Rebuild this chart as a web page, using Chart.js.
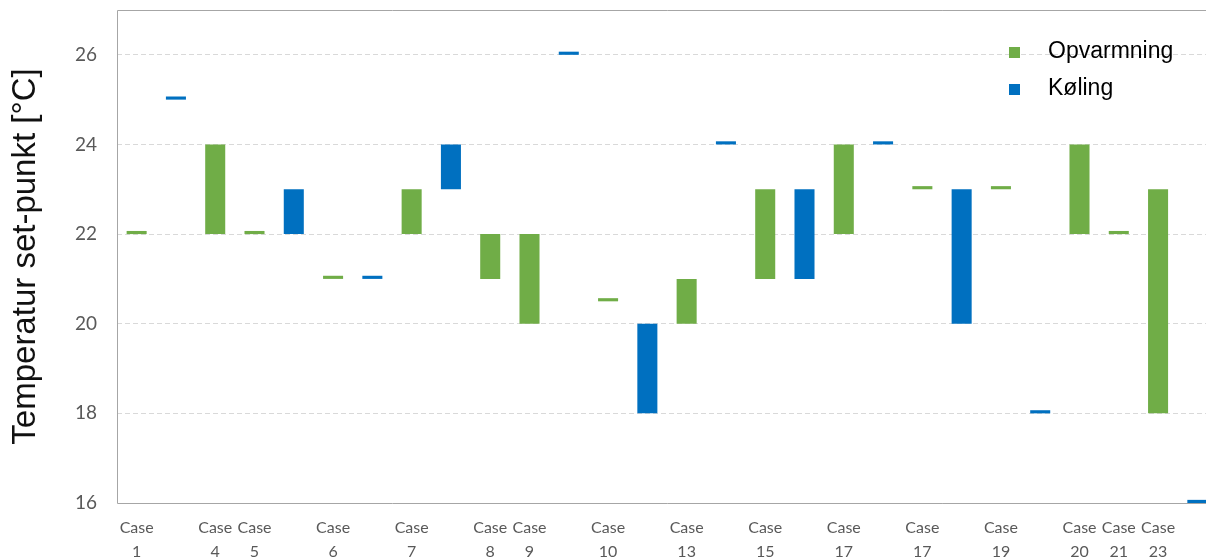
<!doctype html>
<html>
<head>
<meta charset="UTF-8">
<title>Temperatur set-punkt</title>
<style>
  html, body { margin: 0; padding: 0; background: #fff; overflow: hidden; }
  #chart-box { position: relative; width: 1222px; height: 558px; }
</style>
</head>
<body>
<div id="chart-box"><canvas id="myChart"></canvas></div>

<script src="https://cdn.jsdelivr.net/npm/chart.js@4.4.0/dist/chart.umd.min.js"></script>
<script>
// kategorier (tom tekst = ingen label under søjlen)
var cases = [
  ['Case', '1'], '', ['Case', '4'], ['Case', '5'], '', ['Case', '6'], '', ['Case', '7'], '',
  ['Case', '8'], ['Case', '9'], '', ['Case', '10'], '', ['Case', '13'], '', ['Case', '15'], '',
  ['Case', '17'], '', ['Case', '17'], '', ['Case', '19'], '', ['Case', '20'], ['Case', '21'], ['Case', '23'], ''
];

// [fra, til] i grader, null = ingen søjle
var opvarmning = [
  [22, 22.07], null, [22, 24], [22, 22.07], null, [21, 21.07], null, [22, 23], null,
  [21, 22], [20, 22], null, [20.5, 20.57], null, [20, 21], null, [21, 23], null,
  [22, 24], null, [23, 23.07], null, [23, 23.07], null, [22, 24], [22, 22.07], [18, 23], null
];
var koling = [
  null, [25, 25.07], null, null, [22, 23], null, [21, 21.07], null, [23, 24],
  null, null, [26, 26.07], null, [18, 20], null, [24, 24.07], null, [21, 23],
  null, [24, 24.07], null, [20, 23], null, [18, 18.07], null, null, null, [16, 16.07]
];

var y_min = 16;
var y_max = 27;
var y_step = 2;

var green = '#70AD47';
var blue = '#0070C0';

// ramme (venstre, top, bund) rundt om plotområdet
var framePlugin = {
  id: 'frame',
  beforeDatasetsDraw: function(chart){
    var a = chart.chartArea;
    var ctx = chart.ctx;
    var l = Math.round(a.left) + 0.5, t = Math.round(a.top) + 0.5, b = Math.round(a.bottom) + 0.5;
    ctx.save();
    ctx.strokeStyle = '#a6a6a6';
    ctx.lineWidth = 1;
    ctx.beginPath();
    ctx.moveTo(a.right, t);
    ctx.lineTo(l, t);
    ctx.lineTo(l, b);
    ctx.lineTo(a.right, b);
    ctx.stroke();
    ctx.restore();
  }
};

// forklaring inde i plottet, øverst til højre
var legendPlugin = {
  id: 'insideLegend',
  afterDraw: function(chart, args, opts){
    var ctx = chart.ctx;
    ctx.save();
    ctx.font = '23px "Liberation Sans", Arial, sans-serif';
    ctx.textBaseline = 'middle';
    chart.data.datasets.forEach(function(ds, i){
      var y = opts.y + i * opts.gap;
      ctx.fillStyle = ds.backgroundColor;
      ctx.fillRect(opts.x, y - 5, 11, 11);
      ctx.fillStyle = '#000';
      ctx.fillText(ds.label, opts.x + 39, y);
    });
    ctx.restore();
  }
};

var ctx = document.getElementById('myChart');
var myChart = new Chart(ctx, {
  type: 'bar',
  data: {
    labels: cases,
    datasets: [
      { label: 'Opvarmning', data: opvarmning, backgroundColor: green },
      { label: 'Køling', data: koling, backgroundColor: blue }
    ]
  },
  options: {
    responsive: true,
    maintainAspectRatio: false,
    animation: false,
    grouped: false,
    barPercentage: 0.51,
    categoryPercentage: 1.0,
    layout: { padding: { top: 10, right: 5, left: 0, bottom: 0 } },
    plugins: {
      legend: { display: false },
      tooltip: { enabled: false },
      insideLegend: { x: 1009, y: 52, gap: 37 }
    },
    scales: {
      x: {
        grid: { display: false, drawTicks: false },
        border: { display: false },
        ticks: {
          autoSkip: false,
          maxRotation: 0,
          padding: 12,
          color: '#595959',
          font: { family: 'Lato', size: 16, lineHeight: 1.55 }
        },
        afterFit: function(scale){
          scale.height = 55;
          scale.paddingLeft = 0;
          scale.paddingRight = 0;
        }
      },
      y: {
        min: y_min,
        max: y_max,
        grid: {
          drawTicks: false,
          color: function(c){ return c.tick.value === y_min ? 'rgba(0,0,0,0)' : '#d9d9d9'; }
        },
        border: { display: false, dash: [5, 3] },
        ticks: {
          stepSize: y_step,
          includeBounds: false,
          padding: 20,
          color: '#595959',
          font: { family: 'Lato', size: 19 }
        },
        title: {
          display: true,
          text: 'Temperatur set-punkt [°C]',
          color: '#111',
          padding: { top: 6, bottom: 0 },
          font: { family: '"Liberation Sans", Arial, sans-serif', size: 33, weight: 'normal', lineHeight: 1.2 }
        },
        afterFit: function(scale){
          scale.width = 117;
          scale.paddingTop = 0;
          scale.paddingBottom = 0;
        }
      }
    }
  },
  plugins: [framePlugin, legendPlugin]
});
</script>
</body>
</html>
